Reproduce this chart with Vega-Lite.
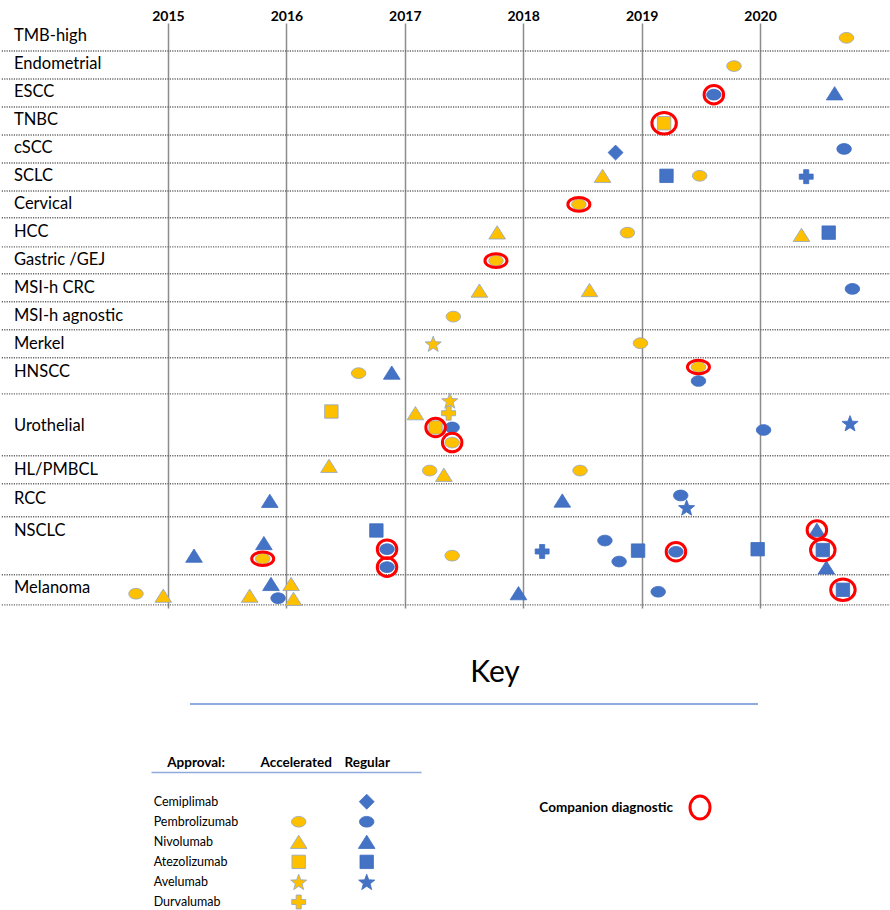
{
  "$schema": "https://vega.github.io/schema/vega-lite/v6.json",
  "background": "white",
  "padding": {"top": 9, "left": 0, "right": 0, "bottom": 0},
  "config": {"view": {"stroke": null}, "font": "Lato"},
  "datasets": {
    "rows": [
      {"name": "TMB-high", "mid": 0.46, "bottom": 1},
      {"name": "Endometrial", "mid": 1.46, "bottom": 2},
      {"name": "ESCC", "mid": 2.46, "bottom": 3},
      {"name": "TNBC", "mid": 3.46, "bottom": 4},
      {"name": "cSCC", "mid": 4.46, "bottom": 5},
      {"name": "SCLC", "mid": 5.46, "bottom": 6},
      {"name": "Cervical", "mid": 6.46, "bottom": 6.96},
      {"name": "HCC", "mid": 7.46, "bottom": 8},
      {"name": "Gastric /GEJ", "mid": 8.46, "bottom": 8.96},
      {"name": "MSI-h CRC", "mid": 9.46, "bottom": 9.96},
      {"name": "MSI-h agnostic", "mid": 10.46, "bottom": 10.96},
      {"name": "Merkel", "mid": 11.46, "bottom": 11.96},
      {"name": "HNSCC", "mid": 12.48, "bottom": 13.25},
      {"name": "Urothelial", "mid": 14.38, "bottom": 15.46},
      {"name": "HL/PMBCL", "mid": 15.96, "bottom": 16.46},
      {"name": "RCC", "mid": 16.99, "bottom": 17.64},
      {"name": "NSCLC", "mid": 18.14, "bottom": 19.71},
      {"name": "Melanoma", "mid": 20.2, "bottom": 20.79}
    ],
    "approvals": [
      {"disease": "TMB-high", "drug": "Pembrolizumab", "approval": "Accelerated", "date": 2020.73, "pos": 0.53},
      {"disease": "Endometrial", "drug": "Pembrolizumab", "approval": "Accelerated", "date": 2019.78, "pos": 1.54},
      {"disease": "ESCC", "drug": "Pembrolizumab", "approval": "Regular", "date": 2019.61, "pos": 2.56, "cdx": "round"},
      {"disease": "ESCC", "drug": "Nivolumab", "approval": "Regular", "date": 2020.63, "pos": 2.51},
      {"disease": "TNBC", "drug": "Atezolizumab", "approval": "Accelerated", "date": 2019.19, "pos": 3.58, "cdx": "large"},
      {"disease": "cSCC", "drug": "Cemiplimab", "approval": "Regular", "date": 2018.78, "pos": 4.63},
      {"disease": "cSCC", "drug": "Pembrolizumab", "approval": "Regular", "date": 2020.71, "pos": 4.5},
      {"disease": "SCLC", "drug": "Nivolumab", "approval": "Accelerated", "date": 2018.67, "pos": 5.46},
      {"disease": "SCLC", "drug": "Atezolizumab", "approval": "Regular", "date": 2019.21, "pos": 5.46},
      {"disease": "SCLC", "drug": "Pembrolizumab", "approval": "Accelerated", "date": 2019.49, "pos": 5.46},
      {"disease": "SCLC", "drug": "Durvalumab", "approval": "Regular", "date": 2020.39, "pos": 5.49},
      {"disease": "Cervical", "drug": "Pembrolizumab", "approval": "Accelerated", "date": 2018.47, "pos": 6.48, "cdx": "oval"},
      {"disease": "HCC", "drug": "Nivolumab", "approval": "Accelerated", "date": 2017.78, "pos": 7.48},
      {"disease": "HCC", "drug": "Pembrolizumab", "approval": "Accelerated", "date": 2018.88, "pos": 7.49},
      {"disease": "HCC", "drug": "Nivolumab", "approval": "Accelerated", "date": 2020.35, "pos": 7.57},
      {"disease": "HCC", "drug": "Atezolizumab", "approval": "Regular", "date": 2020.58, "pos": 7.49},
      {"disease": "Gastric /GEJ", "drug": "Pembrolizumab", "approval": "Accelerated", "date": 2017.77, "pos": 8.49, "cdx": "oval"},
      {"disease": "MSI-h CRC", "drug": "Nivolumab", "approval": "Accelerated", "date": 2017.63, "pos": 9.56},
      {"disease": "MSI-h CRC", "drug": "Nivolumab", "approval": "Accelerated", "date": 2018.56, "pos": 9.54},
      {"disease": "MSI-h CRC", "drug": "Pembrolizumab", "approval": "Regular", "date": 2020.78, "pos": 9.5},
      {"disease": "MSI-h agnostic", "drug": "Pembrolizumab", "approval": "Accelerated", "date": 2017.41, "pos": 10.49},
      {"disease": "Merkel", "drug": "Avelumab", "approval": "Accelerated", "date": 2017.24, "pos": 11.46},
      {"disease": "Merkel", "drug": "Pembrolizumab", "approval": "Accelerated", "date": 2018.99, "pos": 11.44},
      {"disease": "HNSCC", "drug": "Pembrolizumab", "approval": "Accelerated", "date": 2016.61, "pos": 12.51},
      {"disease": "HNSCC", "drug": "Nivolumab", "approval": "Regular", "date": 2016.89, "pos": 12.49},
      {"disease": "HNSCC", "drug": "Pembrolizumab", "approval": "Regular", "date": 2019.48, "pos": 12.79},
      {"disease": "HNSCC", "drug": "Pembrolizumab", "approval": "Accelerated", "date": 2019.48, "pos": 12.29, "cdx": "oval"},
      {"disease": "Urothelial", "drug": "Atezolizumab", "approval": "Accelerated", "date": 2016.38, "pos": 13.88},
      {"disease": "Urothelial", "drug": "Nivolumab", "approval": "Accelerated", "date": 2017.09, "pos": 13.94},
      {"disease": "Urothelial", "drug": "Avelumab", "approval": "Accelerated", "date": 2017.38, "pos": 13.49},
      {"disease": "Urothelial", "drug": "Durvalumab", "approval": "Accelerated", "date": 2017.37, "pos": 13.94},
      {"disease": "Urothelial", "drug": "Atezolizumab", "approval": "Accelerated", "date": 2017.26, "pos": 14.45, "cdx": "round"},
      {"disease": "Urothelial", "drug": "Pembrolizumab", "approval": "Regular", "date": 2017.40, "pos": 14.45},
      {"disease": "Urothelial", "drug": "Pembrolizumab", "approval": "Accelerated", "date": 2017.40, "pos": 14.99, "cdx": "round"},
      {"disease": "Urothelial", "drug": "Pembrolizumab", "approval": "Regular", "date": 2020.03, "pos": 14.54},
      {"disease": "Urothelial", "drug": "Avelumab", "approval": "Regular", "date": 2020.76, "pos": 14.30},
      {"disease": "HL/PMBCL", "drug": "Nivolumab", "approval": "Accelerated", "date": 2016.36, "pos": 15.82},
      {"disease": "HL/PMBCL", "drug": "Pembrolizumab", "approval": "Accelerated", "date": 2017.21, "pos": 15.99},
      {"disease": "HL/PMBCL", "drug": "Nivolumab", "approval": "Accelerated", "date": 2017.33, "pos": 16.14},
      {"disease": "HL/PMBCL", "drug": "Pembrolizumab", "approval": "Accelerated", "date": 2018.48, "pos": 15.99},
      {"disease": "RCC", "drug": "Nivolumab", "approval": "Regular", "date": 2015.86, "pos": 17.07},
      {"disease": "RCC", "drug": "Nivolumab", "approval": "Regular", "date": 2018.33, "pos": 17.06},
      {"disease": "RCC", "drug": "Pembrolizumab", "approval": "Regular", "date": 2019.33, "pos": 16.88},
      {"disease": "RCC", "drug": "Avelumab", "approval": "Regular", "date": 2019.38, "pos": 17.31},
      {"disease": "NSCLC", "drug": "Atezolizumab", "approval": "Regular", "date": 2016.76, "pos": 18.13},
      {"disease": "NSCLC", "drug": "Nivolumab", "approval": "Regular", "date": 2015.81, "pos": 18.58},
      {"disease": "NSCLC", "drug": "Nivolumab", "approval": "Regular", "date": 2015.22, "pos": 19.03},
      {"disease": "NSCLC", "drug": "Pembrolizumab", "approval": "Accelerated", "date": 2015.80, "pos": 19.14, "cdx": "oval"},
      {"disease": "NSCLC", "drug": "Pembrolizumab", "approval": "Regular", "date": 2016.85, "pos": 18.80, "cdx": "round"},
      {"disease": "NSCLC", "drug": "Pembrolizumab", "approval": "Regular", "date": 2016.85, "pos": 19.44, "cdx": "round"},
      {"disease": "NSCLC", "drug": "Pembrolizumab", "approval": "Accelerated", "date": 2017.40, "pos": 19.03},
      {"disease": "NSCLC", "drug": "Durvalumab", "approval": "Regular", "date": 2018.16, "pos": 18.88},
      {"disease": "NSCLC", "drug": "Pembrolizumab", "approval": "Regular", "date": 2018.69, "pos": 18.49},
      {"disease": "NSCLC", "drug": "Pembrolizumab", "approval": "Regular", "date": 2018.81, "pos": 19.24},
      {"disease": "NSCLC", "drug": "Atezolizumab", "approval": "Regular", "date": 2018.97, "pos": 18.85},
      {"disease": "NSCLC", "drug": "Pembrolizumab", "approval": "Regular", "date": 2019.29, "pos": 18.89, "cdx": "round"},
      {"disease": "NSCLC", "drug": "Atezolizumab", "approval": "Regular", "date": 2019.98, "pos": 18.80},
      {"disease": "NSCLC", "drug": "Nivolumab", "approval": "Regular", "date": 2020.48, "pos": 18.11, "cdx": "round"},
      {"disease": "NSCLC", "drug": "Nivolumab", "approval": "Regular", "date": 2020.56, "pos": 19.45},
      {"disease": "NSCLC", "drug": "Atezolizumab", "approval": "Regular", "date": 2020.53, "pos": 18.83, "cdx": "large"},
      {"disease": "Melanoma", "drug": "Pembrolizumab", "approval": "Accelerated", "date": 2014.73, "pos": 20.39},
      {"disease": "Melanoma", "drug": "Nivolumab", "approval": "Accelerated", "date": 2014.96, "pos": 20.46},
      {"disease": "Melanoma", "drug": "Nivolumab", "approval": "Accelerated", "date": 2015.69, "pos": 20.46},
      {"disease": "Melanoma", "drug": "Nivolumab", "approval": "Regular", "date": 2015.87, "pos": 20.04},
      {"disease": "Melanoma", "drug": "Pembrolizumab", "approval": "Regular", "date": 2015.93, "pos": 20.55},
      {"disease": "Melanoma", "drug": "Nivolumab", "approval": "Accelerated", "date": 2016.04, "pos": 20.04},
      {"disease": "Melanoma", "drug": "Nivolumab", "approval": "Accelerated", "date": 2016.06, "pos": 20.57},
      {"disease": "Melanoma", "drug": "Nivolumab", "approval": "Regular", "date": 2017.96, "pos": 20.37},
      {"disease": "Melanoma", "drug": "Pembrolizumab", "approval": "Regular", "date": 2019.14, "pos": 20.32},
      {"disease": "Melanoma", "drug": "Atezolizumab", "approval": "Regular", "date": 2020.70, "pos": 20.25, "cdx": "large"}
    ],
    "drugs": [
      {"drug": "Cemiplimab"}, {"drug": "Pembrolizumab"}, {"drug": "Nivolumab"},
      {"drug": "Atezolizumab"}, {"drug": "Avelumab"}, {"drug": "Durvalumab"}
    ],
    "key": [
      {"drug": "Cemiplimab", "approval": "Regular"},
      {"drug": "Pembrolizumab", "approval": "Accelerated"},
      {"drug": "Pembrolizumab", "approval": "Regular"},
      {"drug": "Nivolumab", "approval": "Accelerated"},
      {"drug": "Nivolumab", "approval": "Regular"},
      {"drug": "Atezolizumab", "approval": "Accelerated"},
      {"drug": "Atezolizumab", "approval": "Regular"},
      {"drug": "Avelumab", "approval": "Accelerated"},
      {"drug": "Avelumab", "approval": "Regular"},
      {"drug": "Durvalumab", "approval": "Accelerated"}
    ],
    "companion": [{"label": "Companion diagnostic"}]
  },
  "bounds": "flush",
  "spacing": 82,
  "vconcat": [
    {
      "width": 890,
      "height": 585,
      "layer": [
        {
          "data": {"name": "rows"},
          "mark": {"type": "rule", "color": "#666666", "strokeWidth": 1.4, "strokeDash": [1.2, 1.2]},
          "encoding": {
            "y": {"field": "bottom", "type": "quantitative", "scale": {"domain": [0, 20.9], "reverse": true, "nice": false, "zero": false}, "axis": null}
          }
        },
        {
          "data": {"name": "rows"},
          "mark": {"type": "text", "align": "left", "baseline": "middle", "font": "Lato", "fontSize": 16.5, "color": "#000000"},
          "encoding": {
            "x": {"datum": 2013.70, "type": "quantitative", "scale": {"domain": [2013.59, 2021.106], "nice": false, "zero": false},
                  "axis": {"orient": "top", "values": [2015, 2016, 2017, 2018, 2019, 2020], "format": "d", "title": null, "ticks": false, "domain": false, "grid": true, "gridColor": "#8c8c8c", "gridWidth": 1.5, "labelFont": "Lato", "labelFontSize": 14, "labelFontWeight": "bold", "labelColor": "#000000", "labelPadding": 0, "labelFlush": false}},
            "y": {"field": "mid", "type": "quantitative", "scale": {"domain": [0, 20.9], "reverse": true, "nice": false, "zero": false}, "axis": null},
            "text": {"field": "name"}
          }
        },
        {
          "data": {"name": "approvals"},
          "mark": {"type": "point", "filled": true, "opacity": 1, "size": 289, "strokeWidth": 0.8},
          "encoding": {
            "x": {"field": "date", "type": "quantitative", "scale": {"domain": [2013.59, 2021.106], "nice": false, "zero": false},
                  "axis": {"orient": "top", "values": [2015, 2016, 2017, 2018, 2019, 2020], "format": "d", "title": null, "ticks": false, "domain": false, "grid": true, "gridColor": "#8c8c8c", "gridWidth": 1.5, "labelFont": "Lato", "labelFontSize": 14, "labelFontWeight": "bold", "labelColor": "#000000", "labelPadding": 0, "labelFlush": false}},
            "y": {"field": "pos", "type": "quantitative", "scale": {"domain": [0, 20.9], "reverse": true, "nice": false, "zero": false}, "axis": null},
            "shape": {"field": "drug", "type": "nominal", "legend": null,
              "scale": {"domain": ["Cemiplimab", "Pembrolizumab", "Nivolumab", "Atezolizumab", "Avelumab", "Durvalumab"],
                        "range": ["M0,-0.88L0.88,0L0,0.88L-0.88,0Z",
                                  "M-0.85,0A0.85,0.63,0,1,0,0.85,0A0.85,0.63,0,1,0,-0.85,0Z",
                                  "M0,-0.78L0.98,0.78L-0.98,0.78Z",
                                  "M-0.79,-0.79H0.79V0.79H-0.79Z",
                                  "M0,-0.905L0.247,-0.245L0.951,-0.214L0.399,0.225L0.588,0.904L0,0.515L-0.588,0.904L-0.399,0.225L-0.951,-0.214L-0.247,-0.245Z",
                                  "M-0.3,-0.82H0.3V-0.3H0.82V0.3H0.3V0.82H-0.3V0.3H-0.82V-0.3H-0.3Z"]}},
            "color": {"field": "approval", "type": "nominal", "legend": null, "scale": {"domain": ["Accelerated", "Regular"], "range": ["#FFC000", "#4472C4"]}},
            "stroke": {"field": "approval", "type": "nominal", "legend": null, "scale": {"domain": ["Accelerated", "Regular"], "range": ["#8EA5CB", "#3F6CBF"]}}
          }
        },
        {
          "data": {"name": "approvals"},
          "transform": [{"filter": "datum.cdx === 'round'"}],
          "mark": {"type": "point", "shape": "M-1,0A1,0.95,0,1,0,1,0A1,0.95,0,1,0,-1,0Z", "size": 380, "filled": false, "stroke": "#FF0000", "strokeWidth": 3, "opacity": 1},
          "encoding": {
            "x": {"field": "date", "type": "quantitative"},
            "y": {"field": "pos", "type": "quantitative"}
          }
        },
        {
          "data": {"name": "approvals"},
          "transform": [{"filter": "datum.cdx === 'large'"}],
          "mark": {"type": "point", "shape": "M-1,0A1,0.88,0,1,0,1,0A1,0.88,0,1,0,-1,0Z", "size": 600, "filled": false, "stroke": "#FF0000", "strokeWidth": 3, "opacity": 1},
          "encoding": {
            "x": {"field": "date", "type": "quantitative"},
            "y": {"field": "pos", "type": "quantitative"}
          }
        },
        {
          "data": {"name": "approvals"},
          "transform": [{"filter": "datum.cdx === 'oval'"}],
          "mark": {"type": "point", "shape": "M-1,0A1,0.62,0,1,0,1,0A1,0.62,0,1,0,-1,0Z", "size": 484, "filled": false, "stroke": "#FF0000", "strokeWidth": 3, "opacity": 1},
          "encoding": {
            "x": {"field": "date", "type": "quantitative"},
            "y": {"field": "pos", "type": "quantitative"}
          }
        }
      ]
    },
    {
      "bounds": "flush",
      "spacing": 0,
      "hconcat": [
        {"width": 189, "height": 14, "data": {"values": []}, "mark": "point"},
        {
          "width": 568,
          "height": 14,
          "layer": [
            {
              "data": {"values": [{"v": 0}]},
              "mark": {"type": "rule", "color": "#8FAADC", "strokeWidth": 2},
              "encoding": {"y": {"field": "v", "type": "quantitative", "scale": {"domain": [0, 1]}, "axis": null}}
            },
            {
              "data": {"values": [{"label": "Key", "v": 1}]},
              "mark": {"type": "text", "font": "Lato", "fontSize": 30, "dx": 21, "dy": -17, "baseline": "middle", "color": "#000000"},
              "encoding": {
                "y": {"field": "v", "type": "quantitative", "scale": {"domain": [0, 1]}, "axis": null},
                "text": {"field": "label"}
              }
            }
          ]
        }
      ]
    },
    {
      "bounds": "flush",
      "spacing": 0,
      "hconcat": [
        {"width": 150, "height": 10, "data": {"values": []}, "mark": "point"},
        {
          "width": 270,
          "height": 133,
          "layer": [
            {
              "data": {"name": "drugs"},
              "mark": {"type": "text", "align": "left", "baseline": "middle", "dx": -9, "font": "Lato", "fontSize": 12.5, "color": "#000000"},
              "encoding": {
                "x": {"datum": "name", "type": "nominal",
                      "scale": {"type": "point", "domain": ["name", "spacer", "Accelerated", "Regular"], "padding": 0.485, "align": 0.177},
                      "axis": {"orient": "top", "title": null, "ticks": false, "domain": true, "domainColor": "#8FAADC", "domainWidth": 1.5, "labelAngle": 0, "labelFont": "Lato", "labelFontSize": 13.5, "labelFontWeight": "bold", "labelColor": "#000000", "labelPadding": 3,
                               "labelExpr": "datum.value === 'name' ? 'Approval:' : (datum.value === 'spacer' ? '' : datum.value)",
                               "labelAlign": {"condition": {"test": "datum.value === 'name'", "value": "left"}, "value": "center"},
                               "labelOffset": {"condition": [{"test": "datum.value === 'name'", "value": 4}, {"test": "datum.value === 'Accelerated'", "value": -3}], "value": 0}}},
                "y": {"field": "drug", "type": "nominal", "sort": null,
                      "scale": {"type": "point", "domain": ["Cemiplimab", "Pembrolizumab", "Nivolumab", "Atezolizumab", "Avelumab", "Durvalumab"], "padding": 0.815, "align": 0.908}, "axis": null},
                "text": {"field": "drug"}
              }
            },
            {
              "data": {"name": "key"},
              "mark": {"type": "point", "filled": true, "opacity": 1, "size": 289, "strokeWidth": 0.8},
              "encoding": {
                "x": {"field": "approval", "type": "nominal",
                      "scale": {"type": "point", "domain": ["name", "spacer", "Accelerated", "Regular"], "padding": 0.485, "align": 0.177},
                      "axis": {"orient": "top", "title": null, "ticks": false, "domain": true, "domainColor": "#8FAADC", "domainWidth": 1.5, "labelAngle": 0, "labelFont": "Lato", "labelFontSize": 13.5, "labelFontWeight": "bold", "labelColor": "#000000", "labelPadding": 3,
                               "labelExpr": "datum.value === 'name' ? 'Approval:' : (datum.value === 'spacer' ? '' : datum.value)",
                               "labelAlign": {"condition": {"test": "datum.value === 'name'", "value": "left"}, "value": "center"},
                               "labelOffset": {"condition": [{"test": "datum.value === 'name'", "value": 4}, {"test": "datum.value === 'Accelerated'", "value": -3}], "value": 0}}},
                "y": {"field": "drug", "type": "nominal", "sort": null,
                      "scale": {"type": "point", "domain": ["Cemiplimab", "Pembrolizumab", "Nivolumab", "Atezolizumab", "Avelumab", "Durvalumab"], "padding": 0.815, "align": 0.908}, "axis": null},
                "shape": {"field": "drug", "type": "nominal", "legend": null,
                  "scale": {"domain": ["Cemiplimab", "Pembrolizumab", "Nivolumab", "Atezolizumab", "Avelumab", "Durvalumab"],
                            "range": ["M0,-0.88L0.88,0L0,0.88L-0.88,0Z",
                                      "M-0.85,0A0.85,0.63,0,1,0,0.85,0A0.85,0.63,0,1,0,-0.85,0Z",
                                      "M0,-0.78L0.98,0.78L-0.98,0.78Z",
                                      "M-0.79,-0.79H0.79V0.79H-0.79Z",
                                      "M0,-0.905L0.247,-0.245L0.951,-0.214L0.399,0.225L0.588,0.904L0,0.515L-0.588,0.904L-0.399,0.225L-0.951,-0.214L-0.247,-0.245Z",
                                      "M-0.3,-0.82H0.3V-0.3H0.82V0.3H0.3V0.82H-0.3V0.3H-0.82V-0.3H-0.3Z"]}},
                "color": {"field": "approval", "type": "nominal", "legend": null, "scale": {"domain": ["Accelerated", "Regular"], "range": ["#FFC000", "#4472C4"]}},
                "stroke": {"field": "approval", "type": "nominal", "legend": null, "scale": {"domain": ["Accelerated", "Regular"], "range": ["#8EA5CB", "#3F6CBF"]}}
              }
            }
          ]
        },
        {"width": 263.3, "height": 10, "data": {"values": []}, "mark": "point"},
        {
          "width": 30,
          "height": 71,
          "data": {"name": "companion"},
          "layer": [
            {
              "mark": {"type": "text", "align": "right", "baseline": "middle", "dx": -27, "font": "Lato", "fontSize": 13.5, "fontWeight": "bold", "color": "#000000"},
              "encoding": {"text": {"field": "label"}}
            },
            {
              "mark": {"type": "point", "shape": "M-1,0A1,1.15,0,1,0,1,0A1,1.15,0,1,0,-1,0Z", "size": 400, "filled": false, "stroke": "#FF0000", "strokeWidth": 3, "opacity": 1},
              "encoding": {}
            }
          ]
        }
      ]
    }
  ]
}
